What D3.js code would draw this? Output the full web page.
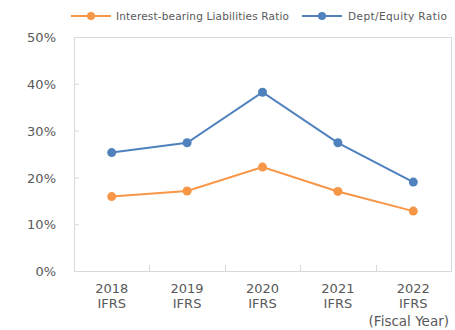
<!DOCTYPE html>
<html><head><meta charset="utf-8">
<script src="https://cdn.jsdelivr.net/npm/d3@7"></script>
<style>body{margin:0;background:#fff}svg{display:block}text{font-family:"DejaVu Sans",sans-serif;fill:#595959}</style>
</head><body><svg id="c" width="455" height="330"></svg>
<script>
const categories = ["2018", "2019", "2020", "2021", "2022"];
const subLabels = ["IFRS", "IFRS", "IFRS", "IFRS", "IFRS"];
const interestBearing = [15.9, 17.1, 22.2, 17.0, 12.8];
const debtEquity = [25.3, 27.4, 38.2, 27.4, 19.0];
const yTicks = [0, 10, 20, 30, 40, 50];
const seriesNames = ["Interest-bearing Liabilities Ratio", "Dept/Equity Ratio"];
const colors = ["#F79646", "#4F81BD"];

const svg = d3.select("#c");
const L = 74, R = 451, T = 37, B = 271;
const x = d3.scaleBand().domain(categories).range([L, R]);
const y = d3.scaleLinear().domain([0, 50]).range([B, T]);

svg.append("rect").attr("x", L + 0.5).attr("y", T + 0.5).attr("width", R - L).attr("height", B - T)
  .attr("fill", "none").attr("stroke", "#d9d9d9").attr("stroke-width", 1);

const ya = svg.append("g").attr("transform", `translate(${L},0)`)
  .call(d3.axisRight(y).tickValues(yTicks).tickSize(5).tickFormat(d => d + "%"));
ya.select(".domain").remove();
ya.selectAll("line").attr("stroke", "#d9d9d9");
ya.selectAll("text").attr("x", -18).attr("dy", "0.36em").attr("text-anchor", "end").style("font-size", "13px").attr("fill", "#595959");

const bounds = categories.slice(1).map(c => x(c));
svg.selectAll(".xt").data(bounds).enter().append("line")
  .attr("x1", d => Math.round(d) + 0.5).attr("x2", d => Math.round(d) + 0.5)
  .attr("y1", B - 6).attr("y2", B).attr("stroke", "#d9d9d9");

const xl = svg.append("g");
categories.forEach((c, i) => {
  const cx = x(c) + x.bandwidth() / 2;
  xl.append("text").attr("x", cx).attr("y", 292.5).attr("text-anchor", "middle").style("font-size", "13px").text(c);
  xl.append("text").attr("x", cx).attr("y", 308).attr("text-anchor", "middle").style("font-size", "13px").text(subLabels[i]);
});
xl.append("text").attr("x", 449).attr("y", 326).attr("text-anchor", "end").style("font-size", "13.5px").text("(Fiscal Year)");

const line = d3.line().x((d, i) => x(categories[i]) + x.bandwidth() / 2).y(d => y(d));
[interestBearing, debtEquity].forEach((s, k) => {
  svg.append("path").datum(s).attr("d", line).attr("fill", "none").attr("stroke", colors[k]).attr("stroke-width", 2);
  svg.selectAll(".m" + k).data(s).enter().append("circle")
    .attr("cx", (d, i) => x(categories[i]) + x.bandwidth() / 2).attr("cy", d => y(d)).attr("r", 4.5).attr("fill", colors[k]);
});

const lg = [{x0: 71, tx: 116, w: 173}, {x0: 302, tx: 348, w: 99}];
lg.forEach((p, k) => {
  svg.append("line").attr("x1", p.x0).attr("x2", p.x0 + 40).attr("y1", 16).attr("y2", 16).attr("stroke", colors[k]).attr("stroke-width", 2);
  svg.append("circle").attr("cx", p.x0 + 20).attr("cy", 16).attr("r", 4).attr("fill", colors[k]);
  svg.append("text").attr("x", p.tx).attr("y", 20).style("font-size", "10.5px")
    .attr("textLength", p.w).attr("lengthAdjust", "spacing").text(seriesNames[k]);
});
</script></body></html>
